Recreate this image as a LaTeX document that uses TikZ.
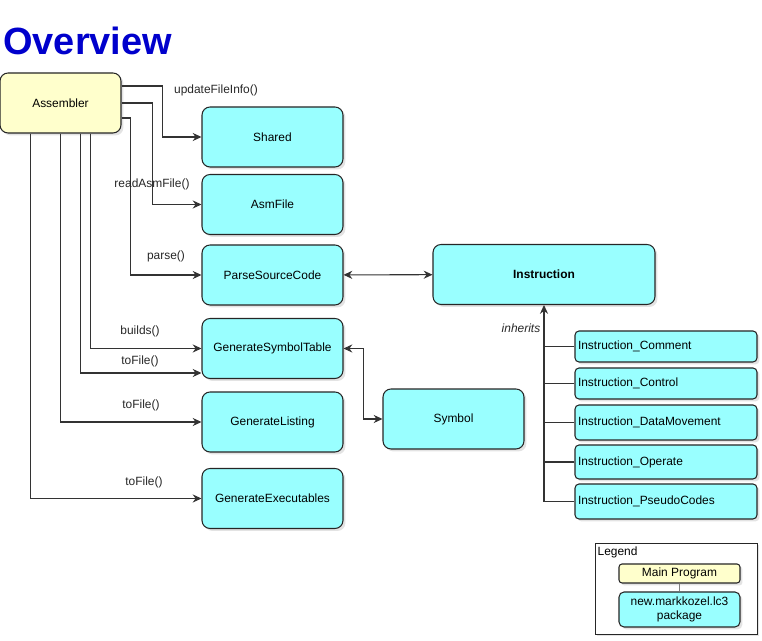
\documentclass[tikz,border=0pt]{standalone}
\usepackage{fontspec}
\setmainfont{Liberation Sans}
\usetikzlibrary{arrows.meta,shadows}
\definecolor{boxcyan}{RGB}{153,255,255}
\definecolor{boxyellow}{RGB}{255,255,204}
\definecolor{titleblue}{RGB}{0,0,204}
\definecolor{linegray}{RGB}{51,51,51}

\begin{document}
\begin{tikzpicture}[x=.02cm,y=-.02cm,>={Stealth[length=5pt,width=4.6pt]},
 font=\fontsize{6.8}{8}\selectfont,
 box/.style={draw=black!85,fill=boxcyan,rounded corners=.16cm,line width=.6pt,
  minimum width=2.82cm,minimum height=1.2cm,inner sep=0pt,
  drop shadow={opacity=.22,shadow xshift=1.4pt,shadow yshift=-1.4pt}},
 mainbox/.style={box,fill=boxyellow},
 subbox/.style={box,rounded corners=.08cm,minimum width=3.64cm,text width=3.52cm,
  align=left,inner xsep=.06cm},
 conn/.style={draw=linegray,line width=.6pt},
 lbl/.style={text=black!85}]
\useasboundingbox (0,0) rectangle (762,641);

% title
\node[anchor=base west,inner sep=0pt,text=titleblue,
 font=\fontsize{21.6}{24}\selectfont\bfseries] (title) at (3,55) {Overview};

% main program and its parts
\node[mainbox,minimum width=2.42cm] (asm) at (60.5,103) {Assembler};
\node[box] (shared) at (272.5,137) {Shared};
\node[box] (asmfile) at (272.5,204.5) {AsmFile};
\node[box] (parse) at (272.5,275) {ParseSourceCode};
\node[box] (symtab) at (272.5,348.5) {GenerateSymbolTable};
\node[box] (listing) at (272.5,422) {GenerateListing};
\node[box] (exec) at (272.5,498.5) {GenerateExecutables};
\node[box,minimum width=4.44cm,font=\fontsize{6.8}{8}\selectfont\bfseries] (instr) at (544,274.5) {Instruction};
\node[box] (symbol) at (453.5,419) {Symbol};

% subclasses of Instruction
\foreach \n/\y/\h/\t in {comment/346.5/.62/Comment,control/383.5/.62/Control,
 datamove/422.5/.7/DataMovement,operate/462/.68/Operate,pseudo/501.5/.7/PseudoCodes}{
 \node[subbox,minimum height=\h cm] (\n) at (666,\y) {Instruction\_\t};
}

% calls from Assembler
\draw[conn,->] ([yshift=.34cm]asm.east) -- ++(41,0) |- (shared);
\draw[conn,->] (asm.east) -- ++(31,0) |- (asmfile);
\draw[conn,->] ([yshift=-.3cm]asm.east) -- ++(9,0) |- (parse);
\draw[conn,->] ([xshift=1.82cm]asm.south west) |- (symtab);
\draw[conn,->] ([xshift=1.62cm]asm.south west) |- ([yshift=-.49cm]symtab.west);
\draw[conn,->] ([xshift=1.22cm]asm.south west) |- (listing);
\draw[conn,->] ([xshift=.62cm]asm.south west) |- (exec);
\node[lbl] (l1) at (216,90) {updateFileInfo()};
\node[lbl] (l2) at (152,184) {readAsmFile()};
\node[lbl] (l3) at (166,256) {parse()};
\node[lbl] (l4) at (140,331) {builds()};
\node[lbl] (l5) at (140,361) {toFile()};
\node[lbl] (l6) at (141,405) {toFile()};
\node[lbl] (l7) at (144,482) {toFile()};

% links between parts
\draw[conn,<->] (parse) -- (instr);
\draw[conn,<->] (symtab.east) -- ++(20,0) |- (symbol);

% inheritance
\draw[conn,->] (pseudo.west) -| (instr.south);
\foreach \n in {comment,control,datamove,operate}{
 \draw[conn] (\n.west) -- (\n.west -| instr.south);
}
\node[lbl,font=\fontsize{6.8}{8}\selectfont\itshape] (inh) at (521,328) {inherits};

% legend
\node[draw=black!85,fill=white,minimum width=3.24cm,minimum height=1.82cm,inner sep=0pt,
 drop shadow={opacity=.22,shadow xshift=1.4pt,shadow yshift=-1.4pt}] (legend) at (676,588.5) {};
\node[anchor=north west,inner sep=1pt] (legtitle) at (595.5,545) {Legend};
\node[mainbox,rounded corners=.06cm,minimum width=2.42cm,minimum height=.38cm] (legmain) at (679.5,573.5) {Main Program};
\node[box,rounded corners=.1cm,minimum width=2.42cm,minimum height=.7cm,align=center] (legpkg) at (679.5,609.5) {new.markkozel.lc3\\package};
\draw[conn,draw=gray] (legmain) -- (legpkg);
\end{tikzpicture}
\end{document}
